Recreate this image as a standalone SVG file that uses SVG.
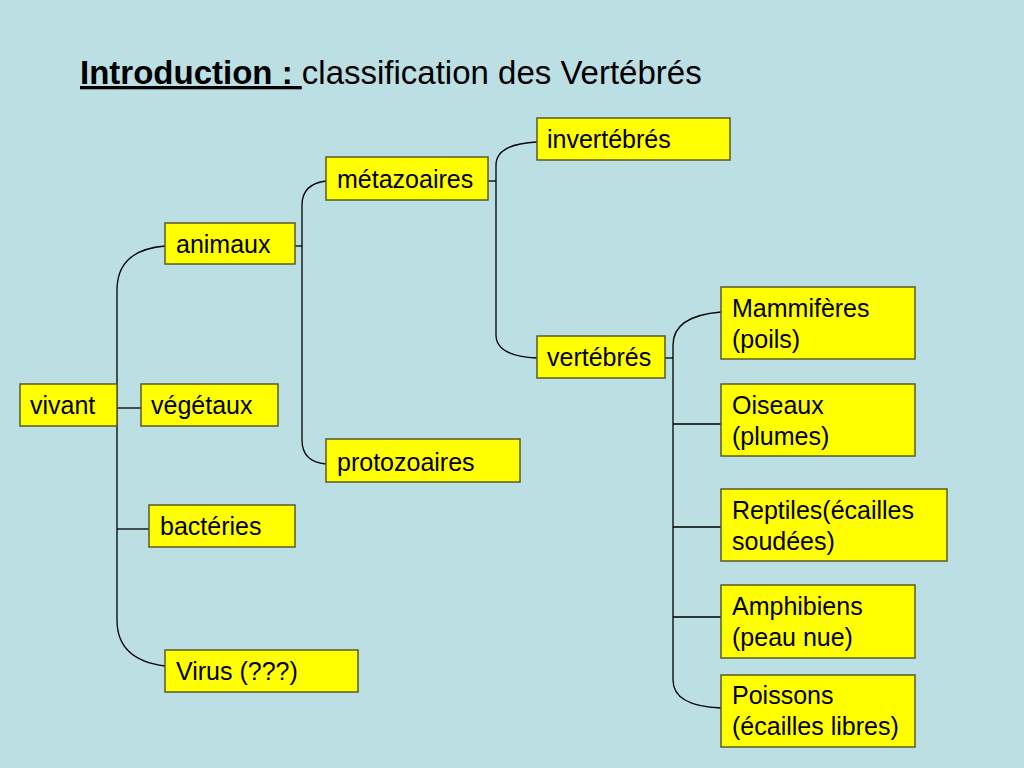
<svg xmlns="http://www.w3.org/2000/svg" width="1024" height="768" viewBox="0 0 1024 768">
<style>
.b{fill:#FFFF00;stroke:#5a5a2a;stroke-width:1.5}
.t{font-family:"Liberation Sans",Arial,sans-serif;font-size:25px;fill:#000}
.c{fill:none;stroke:#000;stroke-width:1.3}
</style>
<rect width="1024" height="768" fill="#BBDFE3"/>
<text x="80" y="84" font-family="Liberation Sans,Arial,sans-serif" font-size="33"><tspan font-weight="bold" text-decoration="underline">Introduction : </tspan>classification des Vertébrés</text>
<g id="connectors" class="c">
<path d="M117,408 H141"/>
<path d="M165,246 Q117,250 117,290 V620 Q117,660 165,666"/>
<path d="M117,529 H149"/>
<path d="M295,246 H302"/>
<path d="M326,181 Q302,184 302,205 V440 Q302,462 326,464"/>
<path d="M488,181 H496"/>
<path d="M537,142 Q496,144 496,165 V335 Q496,356 537,358"/>
<path d="M665,358 H673"/>
<path d="M721,312 Q673,316 673,345 V680 Q673,706 721,708"/>
<path d="M673,424 H721 M673,527 H721 M673,617 H721"/>
</g>
<g id="vivant"><rect class="b" x="20" y="384" width="97" height="42"/><text class="t" x="30" y="414">vivant</text></g>
<g id="vegetaux"><rect class="b" x="141" y="384" width="137" height="42"/><text class="t" x="151" y="414">végétaux</text></g>
<g id="animaux"><rect class="b" x="165" y="223" width="130" height="41"/><text class="t" x="176" y="253">animaux</text></g>
<g id="bacteries"><rect class="b" x="149" y="505" width="146" height="42"/><text class="t" x="160" y="535">bactéries</text></g>
<g id="virus"><rect class="b" x="165" y="650" width="193" height="42"/><text class="t" x="176" y="680">Virus (???)</text></g>
<g id="metazoaires"><rect class="b" x="326" y="157" width="162" height="43"/><text class="t" x="337" y="188">métazoaires</text></g>
<g id="protozoaires"><rect class="b" x="326" y="439" width="194" height="43"/><text class="t" x="337" y="471">protozoaires</text></g>
<g id="invertebres"><rect class="b" x="537" y="118" width="193" height="42"/><text class="t" x="547" y="148">invertébrés</text></g>
<g id="vertebres"><rect class="b" x="537" y="336" width="128" height="42"/><text class="t" x="547" y="366">vertébrés</text></g>
<g id="mammiferes"><rect class="b" x="721" y="287" width="194" height="72"/><text class="t" x="732" y="317">Mammifères</text><text class="t" x="732" y="348">(poils)</text></g>
<g id="oiseaux"><rect class="b" x="721" y="384" width="194" height="72"/><text class="t" x="732" y="414">Oiseaux</text><text class="t" x="732" y="445">(plumes)</text></g>
<g id="reptiles"><rect class="b" x="721" y="489" width="226" height="72"/><text class="t" x="732" y="519">Reptiles(écailles</text><text class="t" x="732" y="550">soudées)</text></g>
<g id="amphibiens"><rect class="b" x="721" y="585" width="194" height="73"/><text class="t" x="732" y="615">Amphibiens</text><text class="t" x="732" y="646">(peau nue)</text></g>
<g id="poissons"><rect class="b" x="721" y="675" width="194" height="72"/><text class="t" x="732" y="704">Poissons</text><text class="t" x="732" y="735">(écailles libres)</text></g>
</svg>
